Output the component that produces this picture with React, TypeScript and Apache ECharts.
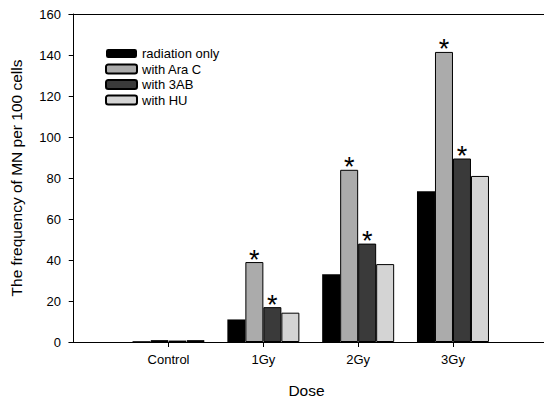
import React, { useEffect, useRef } from "react";
import * as echarts from "echarts";

const categories = ["Control", "1Gy", "2Gy", "3Gy"];
const seriesNames = ["radiation only", "with Ara C", "with 3AB", "with HU"];
const radiationOnly = [0.4, 11, 33, 73.5];
const withAraC = [0.9, 39, 84, 141.5];
const with3AB = [0.7, 17, 48, 89.5];
const withHU = [0.9, 14.3, 38, 81];
const araCStars = [false, true, true, true];
const ab3Stars = [false, true, true, true];
const yTicks = [0, 20, 40, 60, 80, 100, 120, 140, 160];

const FONT = "Liberation Sans, Arial, sans-serif";

export default function App() {
  const ref = useRef<HTMLDivElement>(null);
  useEffect(() => {
    if (!ref.current) return;
    const chart = echarts.init(ref.current, undefined, { renderer: "svg" });
    const positions = categories.map((_, i) => i + 1);
    const colors = ["#000000", "#ababab", "#3a3a3a", "#d4d4d4"];
    const values = [radiationOnly, withAraC, with3AB, withHU];
    const stars = [null, araCStars, ab3Stars, null];
    const series = seriesNames.map((name, s) => ({
      name,
      type: "bar",
      barWidth: 18,
      barGap: "0%",
      itemStyle: { color: colors[s], borderColor: "#000", borderWidth: s === 0 ? 0 : 1 },
      data: values[s].map((v, i) => ({
        value: [positions[i], v],
        label: {
          show: !!(stars[s] && stars[s]![i]),
          position: "top",
          formatter: "*",
          fontSize: 27,
          fontFamily: FONT,
          color: "#000",
          distance: -11,
        },
      })),
    }));
    chart.setOption({
      animation: false,
      textStyle: { fontFamily: FONT },
      grid: { left: 63, right: 0, top: 14, bottom: 57 },
      legend: {
        orient: "vertical",
        left: 100,
        top: 42,
        itemWidth: 31,
        itemHeight: 9,
        itemGap: 2.5,
        data: seriesNames,
        textStyle: { fontSize: 13, color: "#000", fontFamily: FONT, padding: [0, 0, 0, 0] },
      },
      xAxis: [
        {
          type: "value",
          min: -0.05,
          max: 4.96,
          name: "Dose",
          nameLocation: "middle",
          nameGap: 40,
          nameTextStyle: { fontSize: 15.5, color: "#000", fontFamily: FONT },
          axisLine: { show: true, lineStyle: { color: "#000", width: 1 } },
          axisTick: { show: true, customValues: positions, length: 5, lineStyle: { color: "#000" } },
          axisLabel: {
            customValues: positions,
            formatter: (v: number) => categories[Math.round(v) - 1] ?? "",
            fontSize: 13,
            color: "#000",
            margin: 11,
            fontFamily: FONT,
          },
          splitLine: { show: false },
        },
        {
          type: "value",
          position: "top",
          min: -0.05,
          max: 4.96,
          axisLine: { show: true, lineStyle: { color: "#000", width: 1 } },
          axisTick: { show: false },
          axisLabel: { show: false },
          splitLine: { show: false },
        },
      ],
      yAxis: {
        type: "value",
        min: 0,
        max: 160,
        interval: 20,
        name: "The frequency of MN per 100 cells",
        nameLocation: "middle",
        nameGap: 45,
        nameTextStyle: { fontSize: 15.5, color: "#000", fontFamily: FONT },
        axisLine: { show: true, lineStyle: { color: "#000", width: 1 } },
        axisTick: { show: true, length: 5, lineStyle: { color: "#000" } },
        axisLabel: {
          fontSize: 13,
          color: "#000",
          fontFamily: FONT,
          formatter: (v: number) => (yTicks.includes(v) ? String(v) : ""),
        },
        splitLine: { show: false },
      },
      series,
    });
    return () => chart.dispose();
  }, []);
  return (
    <div
      ref={ref}
      style={{ position: "fixed", left: 0, top: 0, width: 544, height: 403, background: "#fff" }}
    />
  );
}
